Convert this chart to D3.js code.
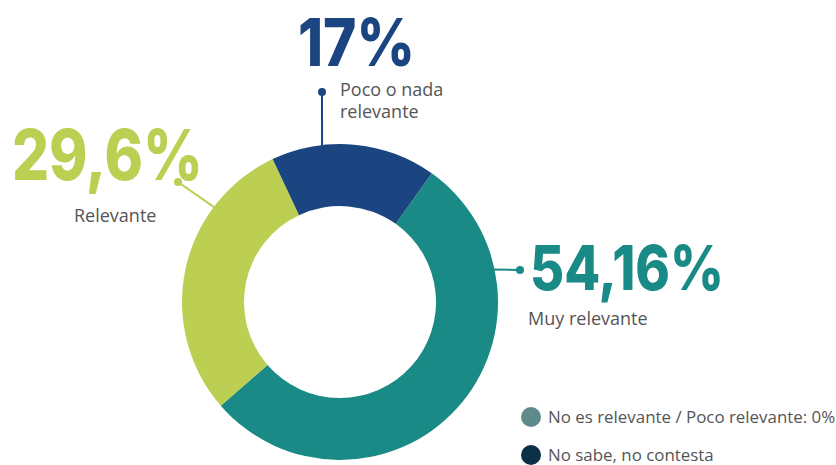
<!DOCTYPE html>
<html>
<head>
<meta charset="utf-8">
<script src="https://cdn.jsdelivr.net/npm/d3@7"></script>
<style>
  html, body { margin: 0; padding: 0; background: #fff; }
  svg { display: block; }
</style>
</head>
<body>
<div id="chart"></div>
<script>
const width = 836;
const height = 465;

// data
const categories = ["Muy relevante", "Relevante", "Poco o nada relevante"];
const values = [54.16, 29.6, 17];
const valueLabels = ["54,16%", "29,6%", "17%"];
const colors = ["#1a8a86", "#bccf53", "#1b4580"];

const legendLabels = ["No es relevante / Poco relevante: 0%", "No sabe, no contesta"];
const legendColors = ["#5e8a8b", "#0b2f45"];

const cx = 340, cy = 302;
const outerR = 158, innerR = 96;
const deg = Math.PI / 180;

const svg = d3.select("#chart")
  .append("svg")
  .attr("width", width)
  .attr("height", height)
  .attr("viewBox", `0 0 ${width} ${height}`);

const pie = d3.pie().sort(null).startAngle(35.5 * deg).endAngle(395.5 * deg);
const arc = d3.arc().innerRadius(innerR).outerRadius(outerR);

const g = svg.append("g").attr("transform", `translate(${cx},${cy})`);
g.selectAll("path")
  .data(pie(values))
  .join("path")
  .attr("d", arc)
  .attr("fill", (d, i) => colors[i]);

// label callouts: angle on the ring, dot position, text position
const callouts = [
  { angle: 78, dot: [520, 270], big: [530, 290], bigSize: 62, bigW: 194, small: [528, 325], lines: ["Muy relevante"] },
  { angle: -53, dot: [178, 182], big: [12, 180], bigSize: 70, bigW: 191, small: [74, 222], lines: ["Relevante"] },
  { angle: -6.6, dot: [322, 92], big: [298, 66], bigSize: 66, bigW: 117, small: [340, 96], lines: ["Poco o nada", "relevante"] }
];

callouts.forEach((c, i) => {
  const a = c.angle * deg;
  const ex = cx + Math.sin(a) * (outerR - 2);
  const ey = cy - Math.cos(a) * (outerR - 2);
  svg.append("line")
    .attr("x1", ex).attr("y1", ey)
    .attr("x2", c.dot[0]).attr("y2", c.dot[1])
    .attr("stroke", colors[i])
    .attr("stroke-width", 2);
  svg.append("circle")
    .attr("cx", c.dot[0]).attr("cy", c.dot[1])
    .attr("r", 4)
    .attr("fill", colors[i]);
  svg.append("text")
    .attr("x", c.big[0]).attr("y", c.big[1])
    .attr("fill", colors[i])
    .attr("textLength", c.bigW)
    .attr("lengthAdjust", "spacingAndGlyphs")
    .style("font-family", "Inter, 'DejaVu Sans', sans-serif")
    .style("font-weight", 800)
    .style("font-size", c.bigSize + "px")
    .text(valueLabels[i]);
  const t = svg.append("text")
    .attr("x", c.small[0]).attr("y", c.small[1])
    .attr("fill", "#555")
    .style("font-family", "'Open Sans', sans-serif")
    .style("font-size", "18px");
  c.lines.forEach((l, j) => {
    t.append("tspan").attr("x", c.small[0]).attr("dy", j === 0 ? 0 : 22).text(l);
  });
});

// legend
const legend = svg.append("g").attr("transform", "translate(531,417)");
legendLabels.forEach((l, i) => {
  const row = legend.append("g").attr("transform", `translate(0,${i * 38})`);
  row.append("circle").attr("r", 10).attr("fill", legendColors[i]);
  row.append("text")
    .attr("x", 17).attr("y", 6)
    .attr("fill", "#555")
    .style("font-family", "'Open Sans', sans-serif")
    .style("font-size", "16.9px")
    .text(l);
});
</script>
</body>
</html>
